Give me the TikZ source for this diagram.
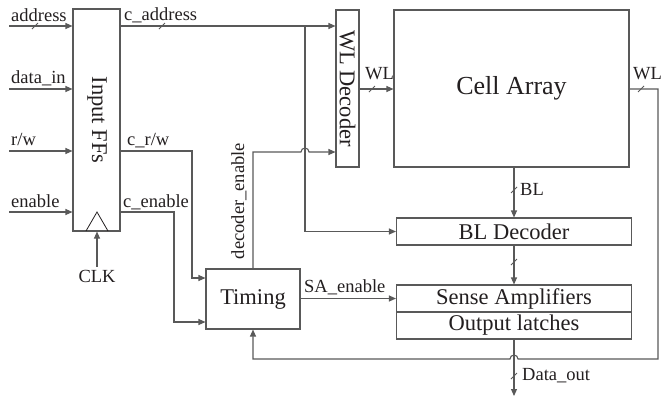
\documentclass[tikz,border=0pt]{standalone}
\usepackage{fontspec}
\setmainfont{Liberation Serif}
\usetikzlibrary{arrows.meta}
\definecolor{lc}{HTML}{595959}
\definecolor{tc}{HTML}{231F20}
\begin{document}
\begin{tikzpicture}[x=1pt,y=1pt,
 ln/.style={draw=lc, line width=1.1pt},
 arr/.style={ln, -{Triangle[length=7pt,width=6pt]}},
 blk/.style={ln, fill=white, inner sep=0pt, anchor=center, text=tc},
 sm/.style={text=tc, font=\fontsize{18.5}{20}\selectfont, inner sep=0pt},
 bg/.style={text=tc, font=\fontsize{22.5}{24}\selectfont, inner sep=0pt},
 bus/.pic={\draw[draw=lc, line width=0.9pt] (-3,-3) -- (3,3);}
]
\useasboundingbox (0,0) rectangle (661,-400);

% blocks
\node[blk, minimum width=47pt, minimum height=222pt] (ffs) at (96.5,-120) {};
\node[bg, rotate=-90] (ffst) at (97,-120) {Input FFs};
\node[blk, minimum width=23pt, minimum height=157pt] (wld) at (347.5,-88.5) {};
\node[bg, rotate=-90] (wldt) at (wld.center) {WL Decoder};
\node[blk, minimum width=235pt, minimum height=157pt, font=\fontsize{26}{28}\selectfont] (cell) at (511.5,-88.5) {Cell Array};
\node[blk, bg, minimum width=235pt, minimum height=27pt] (bld) at (514,-231.5) {BL Decoder};
\node[blk, bg, minimum width=235pt, minimum height=27pt] (sa) at (514,-298.5) {Sense Amplifiers};
\node[blk, bg, minimum width=235pt, minimum height=27pt] (ol) at (514,-325.5) {Output latches};
\node[blk, bg, minimum width=94pt, minimum height=60pt] (tim) at (253,-299) {Timing};

% clock
\draw[draw=tc, line width=0.8pt] (86,-231) -- (97,-212) -- (108,-231);
\node[sm, anchor=base] (clk) at (97,-282) {CLK};
\draw[arr] ([yshift=3pt]clk.north) -- (ffs.south -| clk);

% inputs
\coordinate (ia) at (9,-26);
\coordinate (id) at (9,-89);
\coordinate (ir) at (9,-151);
\coordinate (ie) at (9,-212);
\draw[arr] (ia) -- (ia -| ffs.west);
\draw[arr] (id) -- (id -| ffs.west);
\draw[arr] (ir) -- (ir -| ffs.west);
\draw[arr] (ie) -- (ie -| ffs.west);
\node[sm, anchor=base west] (la) at (11,-21) {address};
\node[sm, anchor=base west] (ld) at (11,-83) {data\_in};
\node[sm, anchor=base west] (lr) at (11,-145) {r/w};
\node[sm, anchor=base west] (le) at (11,-207) {enable};

% c_address
\coordinate (br) at (305,-26);
\draw[arr] (ffs.east |- ia) -- (wld.west |- ia);
\draw[arr] (br) -- (br |- bld.west) -- (bld.west);
\node[sm, anchor=base west] (lca) at (124,-20) {c\_address};

% c_r/w
\coordinate (rw1) at (192,-151);
\coordinate (rw2) at (192,-278);
\draw[arr] (ffs.east |- rw1) -- (rw1) -- (rw2) -- (rw2 -| tim.west);
\node[sm, anchor=base west] (lcr) at (127,-145) {c\_r/w};

% c_enable
\coordinate (en1) at (174,-212);
\coordinate (en2) at (174,-322);
\draw[arr] (ffs.east |- en1) -- (en1) -- (en2) -- (en2 -| tim.west);
\node[sm, anchor=base west] (lce) at (123,-207) {c\_enable};

% decoder_enable
\coordinate (de) at (253,-152);
\coordinate (h1) at (301,-152);
\draw[arr] (tim.north) -- (de) -- (h1) arc (180:0:4) -- (de -| wld.west);
\node[sm, rotate=90, anchor=base] (lde) at (244,-201) {decoder\_enable};

% WL
\coordinate (wl) at (0,-89);
\draw[arr] (wld.east |- wl) -- (cell.west |- wl);
\node[sm, anchor=base west] (lwl) at (365,-79) {WL};
\coordinate (fb1) at (658,-89);
\coordinate (fb2) at (658,-359);
\coordinate (fb3) at (518,-359);
\coordinate (fb4) at (253,-359);
\draw[arr] (cell.east |- wl) -- (fb1) -- (fb2) -- (fb3) arc (0:180:4) -- (fb4) -- (tim.south);
\node[sm, anchor=base west] (lwr) at (633,-79) {WL};

% BL
\draw[arr] (bld.north |- cell.south) -- (bld.north);
\node[sm, anchor=base west] (lbl) at (520,-195) {BL};
\draw[arr] (bld.south) -- (sa.north);

% SA_enable
\draw[arr] (tim.east |- sa.west) -- (sa.west);
\node[sm, anchor=base west] (lsa) at (304,-292) {SA\_enable};

% Data_out
\coordinate (dout) at (514,-396);
\draw[arr] (ol.south) -- (dout);
\node[sm, anchor=base west] (ldo) at (522,-380) {Data\_out};

% bus ticks
\pic at (35,-26) {bus};
\pic at (162,-26) {bus};
\pic at (372,-89) {bus};
\pic at (641,-89) {bus};
\pic at (514,-190) {bus};
\pic at (514,-262) {bus};
\pic at (514,-376) {bus};
\end{tikzpicture}
\end{document}
